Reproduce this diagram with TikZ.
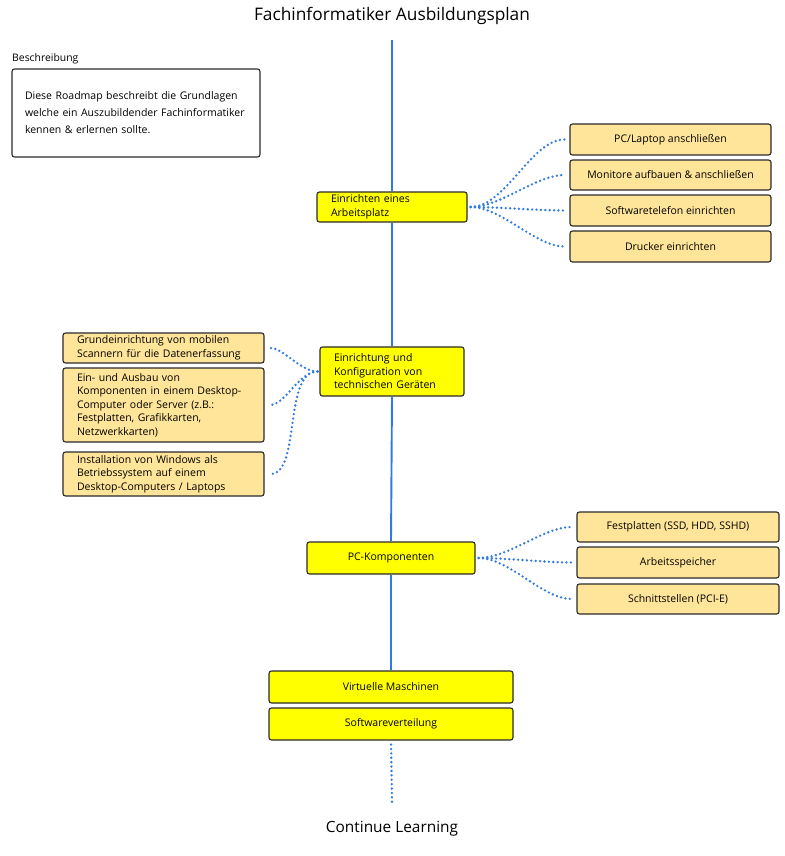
\documentclass[tikz,border=0pt]{standalone}
\usepackage{fontspec}
\setmainfont{Open Sans}
\definecolor{ymain}{HTML}{FFFF00}
\definecolor{ysub}{HTML}{FFE599}
\definecolor{boxline}{HTML}{2B2B2B}
\definecolor{lblue}{HTML}{2F7BE3}
\begin{document}
\begin{tikzpicture}[x=1pt,y=-1pt,
  box/.style={draw=boxline, rounded corners=2.5pt, line width=1.1pt, inner sep=0pt, text=black, font=\fontsize{10.5}{13.5}\selectfont},
  mainbox/.style={box, fill=ymain},
  subbox/.style={box, fill=ysub},
  spine/.style={draw=lblue, line width=1.9pt},
  conn/.style={draw=lblue, line width=2.6pt, line cap=round, dash pattern=on 0pt off 4.4pt},
  txt/.style={inner sep=0pt, text=black}
]
\useasboundingbox (0,0) rectangle (784,856);
\fill[white] (0,0) rectangle (784,856);

% title
\node[txt, font=\fontsize{17.3}{20}\selectfont] (title) at (392,16) {Fachinformatiker Ausbildungsplan};
\node[txt, font=\fontsize{15.4}{18}\selectfont] (cont) at (392,829) {Continue Learning};

% description
\node[txt, anchor=west, font=\fontsize{10.4}{13}\selectfont] (beschr) at (12,59) {Beschreibung};
\node[box, fill=white, minimum width=248, minimum height=88, text width=222, align=left,
      font=\fontsize{10.5}{17}\selectfont] (desc) at (136,113)
  {Diese Roadmap beschreibt die Grundlagen\\welche ein Auszubildender Fachinformatiker\\kennen \& erlernen sollte.};

% main boxes
\node[mainbox, minimum width=150, minimum height=30, text width=122, align=left] (arb) at (392,207) {Einrichten eines\\Arbeitsplatz};
\node[mainbox, minimum width=144, minimum height=49, text width=116, align=left] (konf) at (392,371.5) {Einrichtung und\\Konfiguration von\\technischen Geräten};
\node[mainbox, minimum width=168, minimum height=32, align=center] (pck) at (391,558) {PC-Komponenten};
\node[mainbox, minimum width=244, minimum height=32, align=center] (vm) at (391,687) {Virtuelle Maschinen};
\node[mainbox, minimum width=244, minimum height=32, align=center] (sw) at (391,724) {Softwareverteilung};

% right sub boxes 1
\node[subbox, minimum width=201, minimum height=31] (pc) at (670.5,139.5) {PC/Laptop anschließen};
\node[subbox, minimum width=201, minimum height=30] (mon) at (670.5,175) {Monitore aufbauen \& anschließen};
\node[subbox, minimum width=201, minimum height=31] (tel) at (670.5,210.5) {Softwaretelefon einrichten};
\node[subbox, minimum width=201, minimum height=31] (dru) at (670.5,246.5) {Drucker einrichten};

% left sub boxes
\node[subbox, minimum width=201, minimum height=30, text width=173, align=left] (scan) at (163.5,348) {Grundeinrichtung von mobilen\\Scannern für die Datenerfassung};
\node[subbox, minimum width=201, minimum height=74, text width=173, align=left] (ein) at (163.5,405) {Ein- und Ausbau von\\Komponenten in einem Desktop-\\Computer oder Server (z.B.:\\Festplatten, Grafikkarten,\\Netzwerkkarten)};
\node[subbox, minimum width=201, minimum height=44, text width=173, align=left] (win) at (163.5,474) {Installation von Windows als\\Betriebssystem auf einem\\Desktop-Computers / Laptops};

% right sub boxes 2
\node[subbox, minimum width=202, minimum height=30] (fest) at (678,527) {Festplatten (SSD, HDD, SSHD)};
\node[subbox, minimum width=202, minimum height=31] (ram) at (678,562.5) {Arbeitsspeicher};
\node[subbox, minimum width=202, minimum height=30] (pci) at (678,599) {Schnittstellen (PCI-E)};

% spine
\coordinate (top) at (392,40);
\coordinate (bottom) at (392,802);
\draw[spine] (top) -- (arb.north);
\draw[spine] (arb.south) -- (konf.north);
\draw[spine] (konf.south) -- (pck.north);
\draw[spine] (pck.south) -- (vm.north);
\draw[conn, shorten <=4pt] (sw.south) -- (bottom);

% connectors right 1
\foreach \t in {pc,mon,tel,dru}
  \draw[conn, shorten >=5pt, shorten <=3pt] (arb.east) to[out=0,in=180,looseness=0.8] (\t.west);
% connectors left
\foreach \t in {scan,ein,win}
  \draw[conn, shorten >=6pt, shorten <=2pt] (konf.west) to[out=180,in=0,looseness=0.8] (\t.east);
% connectors right 2
\foreach \t in {fest,ram,pci}
  \draw[conn, shorten >=5pt, shorten <=3pt] (pck.east) to[out=0,in=180,looseness=0.8] (\t.west);
\end{tikzpicture}
\end{document}
